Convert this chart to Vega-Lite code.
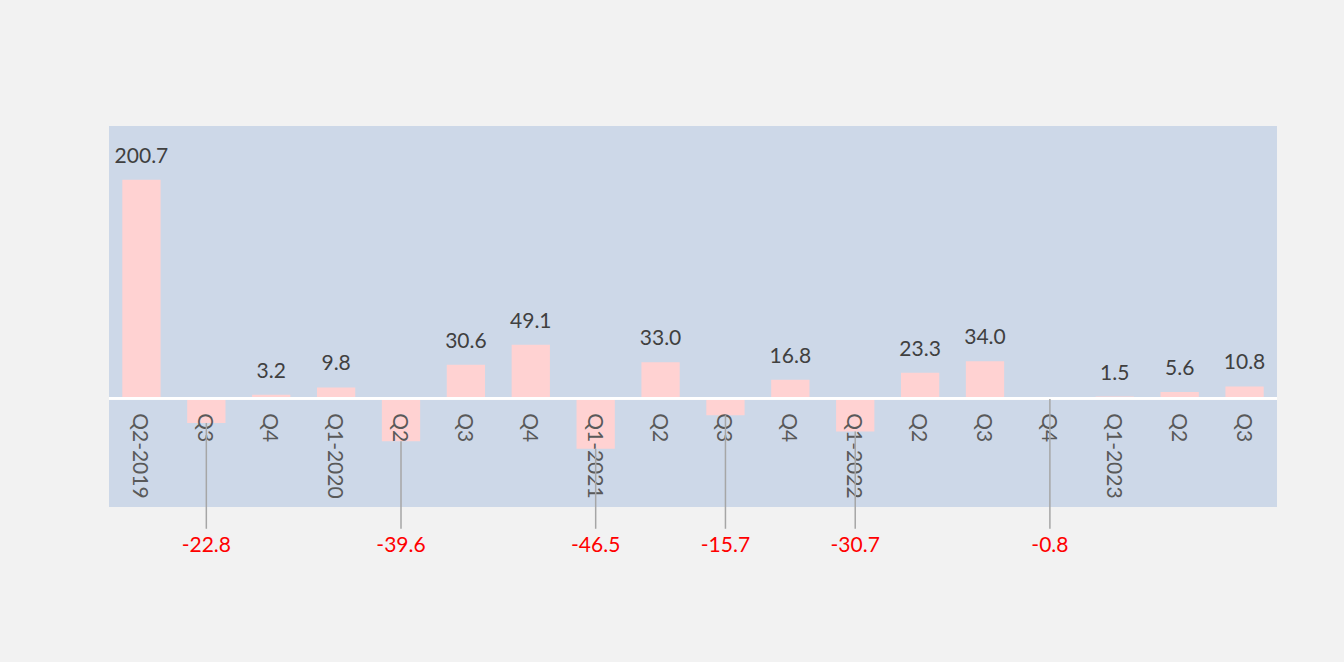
{
  "$schema": "https://vega.github.io/schema/vega-lite/v6.json",
  "width": 1168,
  "height": 381,
  "autosize": {"type": "none"},
  "padding": {"left": 109, "top": 126, "right": 67, "bottom": 155},
  "background": "#f2f2f2",
  "config": {
    "view": {"stroke": null, "fill": "#cdd8e8"},
    "text": {"font": "Lato", "fontSize": 21},
    "locale": {"number": {"decimal": ".", "thousands": ",", "grouping": [3], "currency": ["$", ""], "minus": "-"}}
  },
  "data": {"values": [
    {"period": "2019-Q2", "label": "Q2-2019", "value": 200.7},
    {"period": "2019-Q3", "label": "Q3", "value": -22.8},
    {"period": "2019-Q4", "label": "Q4", "value": 3.2},
    {"period": "2020-Q1", "label": "Q1-2020", "value": 9.8},
    {"period": "2020-Q2", "label": "Q2", "value": -39.6},
    {"period": "2020-Q3", "label": "Q3", "value": 30.6},
    {"period": "2020-Q4", "label": "Q4", "value": 49.1},
    {"period": "2021-Q1", "label": "Q1-2021", "value": -46.5},
    {"period": "2021-Q2", "label": "Q2", "value": 33.0},
    {"period": "2021-Q3", "label": "Q3", "value": -15.7},
    {"period": "2021-Q4", "label": "Q4", "value": 16.8},
    {"period": "2022-Q1", "label": "Q1-2022", "value": -30.7},
    {"period": "2022-Q2", "label": "Q2", "value": 23.3},
    {"period": "2022-Q3", "label": "Q3", "value": 34.0},
    {"period": "2022-Q4", "label": "Q4", "value": -0.8},
    {"period": "2023-Q1", "label": "Q1-2023", "value": 1.5},
    {"period": "2023-Q2", "label": "Q2", "value": 5.6},
    {"period": "2023-Q3", "label": "Q3", "value": 10.8}
  ]},
  "encoding": {
    "x": {"field": "period", "type": "nominal", "sort": null, "axis": null,
          "scale": {"paddingInner": 0.41, "paddingOuter": 0.205}}
  },
  "layer": [
    {
      "mark": {"type": "bar", "fill": "#ffd2d2"},
      "encoding": {
        "y": {"field": "value", "type": "quantitative", "axis": null,
              "scale": {"domain": [-100, 250], "nice": false, "zero": true}}
      }
    },
    {
      "mark": {"type": "rule", "color": "#ffffff", "strokeWidth": 2},
      "encoding": {"x": null, "y": {"datum": 0, "type": "quantitative"}}
    },
    {
      "mark": {"type": "text", "angle": 90, "align": "left", "baseline": "middle", "dx": 15, "dy": 2, "color": "#595959"},
      "encoding": {"y": {"datum": 0, "type": "quantitative"}, "text": {"field": "label"}}
    },
    {
      "transform": [{"filter": "datum.value > 0"}],
      "mark": {"type": "text", "baseline": "alphabetic", "dy": -17, "color": "#404040"},
      "encoding": {"y": {"field": "value", "type": "quantitative"}, "text": {"field": "value", "format": ".1f"}}
    },
    {
      "transform": [{"filter": "datum.value < 0"}],
      "mark": {"type": "rule", "color": "#a6a6a6", "strokeWidth": 1.5},
      "encoding": {"y": {"field": "value", "type": "quantitative"}, "y2": {"datum": -120}}
    },
    {
      "transform": [{"filter": "datum.value < 0"}],
      "mark": {"type": "text", "baseline": "top", "dy": 6, "color": "#ff0000"},
      "encoding": {"y": {"datum": -120, "type": "quantitative"}, "text": {"field": "value", "format": ".1f"}}
    }
  ]
}
